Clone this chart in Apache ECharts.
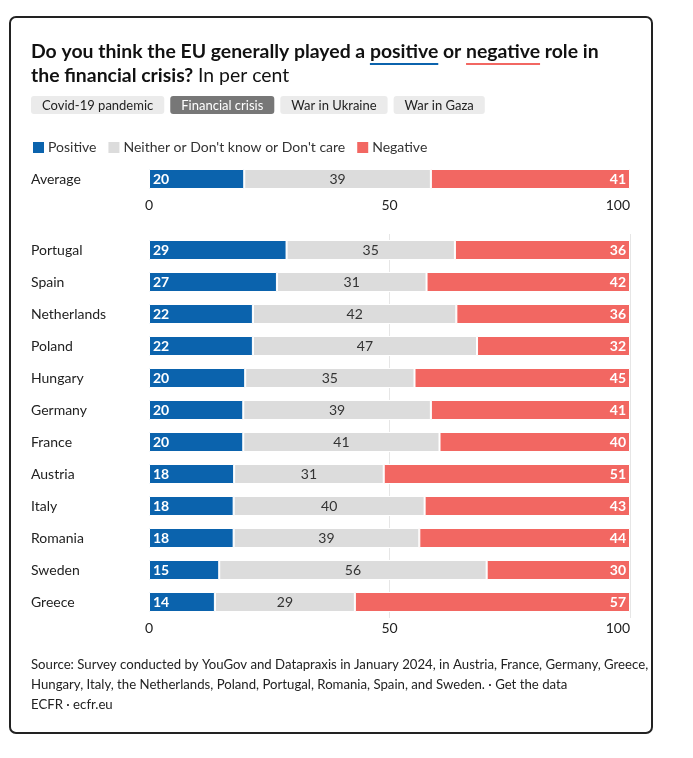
<!DOCTYPE html>
<html><head><meta charset="utf-8">
<script src="https://cdn.jsdelivr.net/npm/echarts@6/dist/echarts.min.js"></script>
<style>html,body{margin:0;padding:0;background:#fff}#c{width:693px;height:758px}</style>
</head><body><div id="c"></div>
<script>
// ---- data ----
const categories = ['Portugal','Spain','Netherlands','Poland','Hungary','Germany','France','Austria','Italy','Romania','Sweden','Greece'];
const positive = [28.6,26.6,21.6,21.6,20.0,19.6,19.6,17.7,17.6,17.6,14.6,13.7];
const neither  = [35.0,31.1,42.3,46.6,35.2,39.0,40.8,31.1,39.7,38.6,55.6,29.1];
const negative = [36.4,42.3,36.1,31.8,44.8,41.4,39.6,51.2,42.7,43.8,29.8,57.2];
const avgCategory = ['Average'];
const avgPositive = [19.8];
const avgNeither  = [38.8];
const avgNegative = [41.4];
const xTicks = [0, 50, 100];
const seriesNames = ['Positive', "Neither or Don't know or Don't care", 'Negative'];
const tabs = ['Covid-19 pandemic', 'Financial crisis', 'War in Ukraine', 'War in Gaza'];
const selectedTab = 'Financial crisis';

// ---- style ----
const FONT = 'Lato';
const C_POS = '#0b63ad', C_NEU = '#dcdcdc', C_NEG = '#f26762';

const ctx = document.createElement('canvas').getContext('2d');
function tw(text, font){ ctx.font = font; return ctx.measureText(text).width; }

const chart = echarts.init(document.getElementById('c'), null, {renderer:'canvas'});

function makeSeries(idx, vals, k){
  const colors = [C_POS, C_NEU, C_NEG];
  const lab = [
    {show:true, position:'insideLeft', distance:4, color:'#fff', fontWeight:'bold', fontSize:14, fontFamily:FONT},
    {show:true, position:'inside', color:'#333', fontSize:14, fontFamily:FONT},
    {show:true, position:'insideRight', distance:4, color:'#fff', fontWeight:'bold', fontSize:14, fontFamily:FONT}
  ][k];
  lab.formatter = p => Math.round(p.value);
  return {
    type:'bar', name: seriesNames[k], stack:'s'+idx, xAxisIndex:idx, yAxisIndex:idx,
    data: vals, barWidth:20, itemStyle:{color:colors[k], borderColor:'#fff', borderWidth:1},
    label: lab, emphasis:{disabled:true}, animation:false
  };
}

const titleFontB = 'bold 19.4px ' + FONT;
const titleFontN = '19.4px ' + FONT;
const pre1 = 'Do you think the EU generally played a ';
const wPre1 = tw(pre1, titleFontB);
const wPos = tw('positive', titleFontB);
const wPreNeg = tw(pre1 + 'positive or ', titleFontB);
const wNeg = tw('negative', titleFontB);
const line2b = 'the financial crisis? ';
const wLine2b = tw(line2b, titleFontB);

const tabFont = '13px ' + FONT;
const graphics = [
  {type:'rect', shape:{x:10, y:17, width:642, height:716, r:6}, style:{fill:'none', stroke:'#222', lineWidth:2}, silent:true},
  {type:'text', x:31, y:52, style:{text: pre1 + 'positive or negative role in', font:titleFontB, fill:'#111', verticalAlign:'middle'}},
  {type:'rect', shape:{x:31 + wPre1, y:63, width:wPos, height:2}, style:{fill:C_POS}},
  {type:'rect', shape:{x:31 + wPreNeg, y:63, width:wNeg, height:2}, style:{fill:C_NEG}},
  {type:'text', x:31, y:76, style:{text: line2b, font:titleFontB, fill:'#111', verticalAlign:'middle'}},
  {type:'text', x:31 + wLine2b, y:76, style:{text:'In per cent', font:titleFontN, fill:'#111', verticalAlign:'middle'}},
  {type:'text', x:31, y:655, style:{
    text:"Source: Survey conducted by YouGov and Datapraxis in January 2024, in Austria, France, Germany, Greece,\nHungary, Italy, the Netherlands, Poland, Portugal, Romania, Spain, and Sweden. · Get the data\nECFR · ecfr.eu",
    font:'13.2px ' + FONT, fill:'#222', lineHeight:20}}
];
let tx = 31;
tabs.forEach(t => {
  const sel = t === selectedTab;
  graphics.push({type:'text', x:tx, y:96, style:{text:t, font:tabFont, fill: sel ? '#fff' : '#222',
    backgroundColor: sel ? '#777' : '#ebebeb', padding:[3,11,2,11], borderRadius:3}});
  tx += tw(t, tabFont) + 22 + 6;
});

const axisLabelStyle = {fontSize:14, color:'#222', fontFamily:FONT};
const option = {
  animation:false,
  textStyle:{fontFamily:FONT},
  legend:{left:31, top:140, padding:0, itemWidth:13, itemHeight:13, itemGap:10, icon:'rect',
    data: seriesNames, textStyle:{fontSize:14, color:'#333', fontFamily:FONT, padding:[0,0,0,-2]}, selectedMode:false},
  grid:[
    {left:149, right:63, top:163, height:32},
    {left:149, right:63, top:234, height:384}
  ],
  xAxis:[0,1].map(i => ({
    type:'value', gridIndex:i, min:xTicks[0], max:xTicks[xTicks.length-1], interval:xTicks[1]-xTicks[0],
    axisLine:{show:false}, axisTick:{show:false},
    axisLabel:Object.assign({margin:3, alignMaxLabel:'right'}, axisLabelStyle),
    splitLine:{show:i===1, lineStyle:{color:['rgba(0,0,0,0)','#e6e6e6','#e6e6e6'], width:1}}
  })),
  yAxis:[
    {type:'category', gridIndex:0, data:avgCategory, inverse:true, axisLine:{show:false}, axisTick:{show:false},
      axisLabel:Object.assign({align:'left', margin:118}, axisLabelStyle)},
    {type:'category', gridIndex:1, data:categories, inverse:true, axisLine:{show:false}, axisTick:{show:false},
      axisLabel:Object.assign({align:'left', margin:118}, axisLabelStyle)}
  ],
  series:[
    makeSeries(0, avgPositive, 0), makeSeries(0, avgNeither, 1), makeSeries(0, avgNegative, 2),
    makeSeries(1, positive, 0), makeSeries(1, neither, 1), makeSeries(1, negative, 2)
  ],
  graphic: graphics
};
chart.setOption(option);
</script></body></html>
